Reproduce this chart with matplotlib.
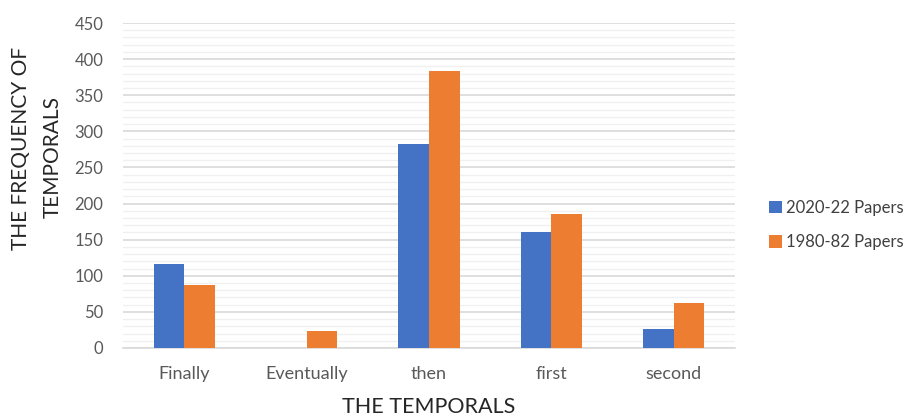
import matplotlib
matplotlib.use("Agg")
import matplotlib.pyplot as plt
import numpy as np
from matplotlib.ticker import MultipleLocator
from matplotlib.patches import Patch

plt.rcParams['font.family'] = ['Lato', 'DejaVu Sans']

categories = ["Finally", "Eventually", "then", "first", "second"]
papers_2020_22 = [117, 0, 282, 160, 27]
papers_1980_82 = [87, 23, 383, 185, 62]
series_names = ["2020-22 Papers", "1980-82 Papers"]
colors = ["#4472C4", "#ED7D31"]

fig = plt.figure(figsize=(9.09, 4.18), dpi=100)
ax = fig.add_axes([123 / 909, 70 / 418, 612 / 909, 325 / 418])

x = np.arange(len(categories))
w = 0.25
ax.bar(x - w / 2, papers_2020_22, width=w, color=colors[0], zorder=3)
ax.bar(x + w / 2, papers_1980_82, width=w, color=colors[1], zorder=3)

ax.set_xlim(-0.5, len(categories) - 0.5)
ax.set_ylim(0, 450)
ax.yaxis.set_major_locator(MultipleLocator(50))
ax.yaxis.set_minor_locator(MultipleLocator(10))
ax.grid(axis='y', which='major', color='#D9D9D9', linewidth=1.2, zorder=0)
ax.grid(axis='y', which='minor', color='#F0F0F0', linewidth=1.0, zorder=0)

for s in ['top', 'right', 'left']:
    ax.spines[s].set_visible(False)
ax.spines['bottom'].set_color('#D9D9D9')
ax.spines['bottom'].set_linewidth(1.2)

ax.set_xticks(x)
ax.set_xticklabels(categories)
ax.tick_params(axis='both', which='both', length=0, colors='#595959')
ax.tick_params(axis='y', pad=14, labelsize=12)
ax.tick_params(axis='x', pad=13, labelsize=13)

fig.text(429 / 909, 1 - 407 / 418, "THE TEMPORALS", ha='center', va='center',
         fontsize=15.5, color='#262626')
fig.text(21 / 909, 1 - 148 / 418, "THE FREQUENCY OF", ha='center', va='center',
         rotation=90, fontsize=15, color='#262626')
fig.text(53 / 909, 1 - 157 / 418, "TEMPORALS", ha='center', va='center',
         rotation=90, fontsize=15, color='#262626')

handles = [Patch(facecolor=c, label=n) for c, n in zip(colors, series_names)]
fig.legend(handles=handles, loc='center left', bbox_to_anchor=(769 / 909, 1 - 225 / 418),
           frameon=False, fontsize=12, handlelength=0.8, handleheight=0.8,
           handletextpad=0.2, labelspacing=1.1, borderpad=0, borderaxespad=0,
           labelcolor='#404040')

fig.savefig("out.png", dpi=100)
